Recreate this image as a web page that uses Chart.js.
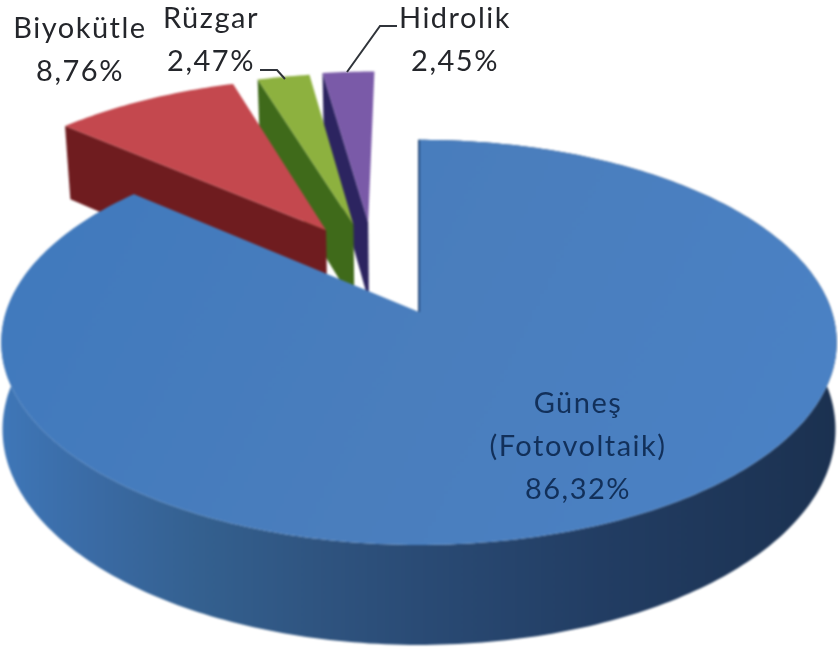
<!DOCTYPE html>
<html>
<head>
<meta charset="utf-8">
<title>Pie</title>
<script src="https://cdn.jsdelivr.net/npm/chart.js@4"></script>
<style>
  html, body { margin: 0; padding: 0; background: #fff; }
  canvas { display: block; }
</style>
</head>
<body>
<canvas id="myChart" width="838" height="652"></canvas>
<script>
// values
const categories = ["Güneş|(Fotovoltaik)", "Biyokütle", "Rüzgar", "Hidrolik"];
const shares = [86.32, 8.76, 2.47, 2.45];
const topColors = ["#4a7fbf", "#c4484e", "#8db13f", "#7a5aa8"];
const wallColors = ["#2f5480", "#6f1c1f", "#3f6a1a", "#2c2460"];

// view of the tilted disc
const view = { cx: 419, cy: 312, rx: 413, ry: 198, k: 0.15, depth: 85 };
// how far each slice is pulled out of the disc, in disc radii
const pull = [[0, 0], [-0.24, -0.44], [-0.17, -0.472], [-0.132, -0.485]];
// text anchors, one line per entry (the last line is the percentage)
const labelAnchors = [[578, 404], [80, 29], [211, 19], [455, 19]];
const labelGap = 43;
const labelColors = ["#12305a", "#24262b", "#24262b", "#24262b"];
const leaders = [null, null, [[260, 70], [277, 70], [285, 79]], [[397, 26], [380, 26], [347, 72]]];

function project(u, v) {
  const f = 1 / (1 - view.k * v);
  return { x: view.cx + view.rx * u * f, y: view.cy + view.ry * v * f, f };
}

function rimPoints(arc, d) {
  const pts = [];
  const steps = Math.max(6, Math.ceil((arc.endAngle - arc.startAngle) * 60));
  for (let s = 0; s <= steps; s++) {
    const a = arc.startAngle + (arc.endAngle - arc.startAngle) * s / steps;
    pts.push(project(Math.cos(a) + d[0], Math.sin(a) + d[1]));
  }
  return pts;
}

function fillPath(ctx, pts, color) {
  ctx.beginPath();
  pts.forEach((p, i) => (i ? ctx.lineTo(p.x, p.y) : ctx.moveTo(p.x, p.y)));
  ctx.closePath();
  ctx.fillStyle = color;
  ctx.fill();
}

const lowered = (p, shrink) => ({
  x: view.cx + (p.x - view.cx) * shrink,
  y: p.y + view.depth * p.f,
});

const tiltedPie = {
  id: "tiltedPie",
  beforeDatasetDraw(chart, args) {
    const arcs = chart.getDatasetMeta(args.index).data;
    // everything goes on one layer first so the soft edges do not show the page through
    const layer = document.createElement("canvas");
    layer.width = chart.width;
    layer.height = chart.height;
    const g = layer.getContext("2d");
    // back slices first, the big one last
    for (let i = arcs.length - 1; i > 0; i--) {
      const d = pull[i];
      const rim = rimPoints(arcs[i], d);
      const apex = project(d[0], d[1]);
      fillPath(g, [apex, rim[0], lowered(rim[0], 0.985), lowered(apex, 0.985)], wallColors[i]);
      fillPath(g, [apex, ...rim], topColors[i]);
    }
    // big slice: outer wall, then its top
    const rim = rimPoints(arcs[0], pull[0]);
    const shade = g.createLinearGradient(0, 0, 838, 0);
    shade.addColorStop(0, "#3f77b8");
    shade.addColorStop(0.06, "#3c70ad");
    shade.addColorStop(0.12, "#3a6aa3");
    shade.addColorStop(0.24, "#34608f");
    shade.addColorStop(0.38, "#2f5480");
    shade.addColorStop(0.5, "#2a4b75");
    shade.addColorStop(0.72, "#223d63");
    shade.addColorStop(1, "#1b3150");
    fillPath(g, [...rim, ...rim.map((p) => lowered(p, 0.997)).reverse()], shade);
    const apex = project(0, 0);
    const sheen = g.createLinearGradient(0, 140, 838, 545);
    sheen.addColorStop(0, "#3f79bd");
    sheen.addColorStop(0.5, "#4a7ebd");
    sheen.addColorStop(1, "#4a82c6");
    fillPath(g, [apex, ...rim], sheen);
    // dark seam on the open edge
    g.beginPath();
    g.moveTo(rim[0].x, rim[0].y);
    g.lineTo(apex.x, apex.y);
    g.strokeStyle = "#2a4f80";
    g.lineWidth = 2;
    g.stroke();

    const ctx = chart.ctx;
    ctx.save();
    ctx.filter = "blur(0.8px)";
    ctx.drawImage(layer, 0, 0);
    ctx.restore();
    return false;
  },
  afterDraw(chart) {
    const ctx = chart.ctx;
    ctx.save();
    ctx.filter = "blur(0.5px)";
    ctx.textAlign = "center";
    ctx.textBaseline = "middle";
    ctx.font = "29px Lato";
    ctx.letterSpacing = "1.5px";
    categories.forEach((name, i) => {
      const lines = name.split("|").concat(shares[i].toFixed(2).replace(".", ",") + "%");
      ctx.fillStyle = labelColors[i];
      lines.forEach((line, n) => {
        ctx.fillText(line, labelAnchors[i][0], labelAnchors[i][1] + n * labelGap);
      });
      if (leaders[i]) {
        ctx.beginPath();
        leaders[i].forEach((p, n) => (n ? ctx.lineTo(p[0], p[1]) : ctx.moveTo(p[0], p[1])));
        ctx.strokeStyle = "#30343a";
        ctx.lineWidth = 2;
        ctx.stroke();
      }
    });
    ctx.restore();
  },
};

const ctx = document.getElementById("myChart").getContext("2d");
const myChart = new Chart(ctx, {
  type: "pie",
  data: {
    labels: categories,
    datasets: [{ data: shares, backgroundColor: topColors }],
  },
  options: {
    responsive: false,
    animation: false,
    plugins: {
      legend: { display: false },
      tooltip: { enabled: false },
    },
  },
  plugins: [tiltedPie],
});
</script>
</body>
</html>
